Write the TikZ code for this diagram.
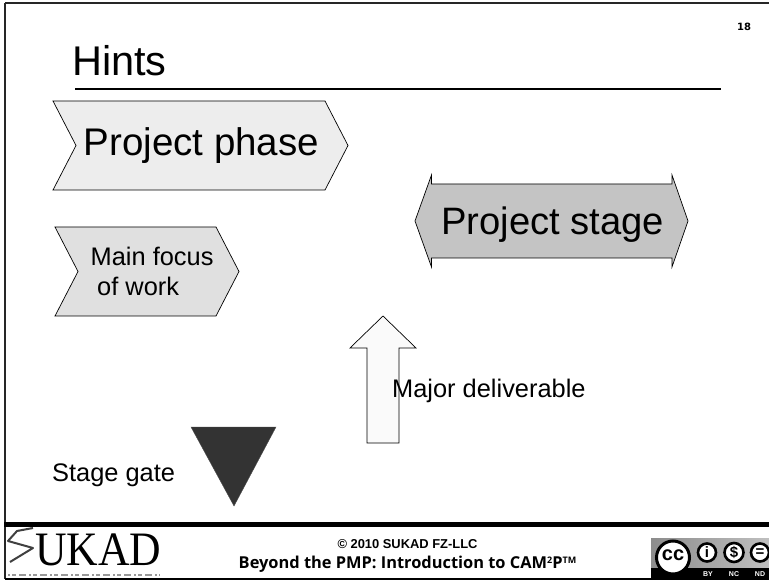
\documentclass[tikz,border=0pt]{standalone}
\usepackage{fontspec}
\setmainfont{Liberation Sans}
\newfontfamily\footfont{Open Sans}
\newfontfamily\logofont{Liberation Serif}
\newfontfamily\smallfont{DejaVu Sans}
\newcommand{\footsup}[1]{\raisebox{5pt}{\fontsize{9}{9}\selectfont #1}}
\begin{document}
\begin{tikzpicture}[x=1pt,y=-1pt,
  shapeline/.style={draw=black,line width=0.7pt,line join=miter},
  labeltext/.style={inner sep=0pt,anchor=base west,text=black},
  ringmark/.style={draw=black,line width=2.6pt,fill=white},
  ccsmall/.style={font=\bfseries\fontsize{15}{15}\selectfont,inner sep=0pt},
  cctag/.style={font=\bfseries\fontsize{7}{7}\selectfont,text=white,inner sep=0pt}]
\useasboundingbox (0,0) rectangle (769,580);
\fill[white] (0,0) rectangle (769,580);
% frame
\draw[line width=2.2pt,draw=black!85] (5,3) -- (769,3);
\draw[line width=2.2pt,draw=black!85] (5,3) -- (5,579);
\draw[line width=2pt] (5,578.5) -- (769,578.5);
\draw[line width=4.5pt] (4,524.5) -- (769,524.5);
% title
\node[labeltext,font=\fontsize{41.5}{42}\selectfont] (title) at (72,76) {Hints};
\draw[line width=2pt] (75,89.5) -- (721,89.5);
\node[labeltext,font=\smallfont\bfseries\fontsize{10}{10}\selectfont] (pg) at (737,30.5) {18};
% shapes
\draw[shapeline,fill=black!7] (53,101) -- (325,101) -- (348,145.5) -- (325,190) -- (53,190) -- (76,145.5) -- cycle;
\node[labeltext,font=\fontsize{38.5}{38}\selectfont] (pp) at (83.5,156) {Project phase};
\draw[shapeline,fill=black!12] (55,227) -- (216,227) -- (239,271.5) -- (216,316) -- (55,316) -- (78,271.5) -- cycle;
\node[labeltext,font=\fontsize{25.4}{25}\selectfont] (mf1) at (90.5,266) {Main focus};
\node[labeltext,font=\fontsize{25.4}{25}\selectfont] (mf2) at (97,296) {of work};
\draw[shapeline,fill=black!23] (415,221) -- (431.5,175) -- (431.5,184) -- (672,184) -- (672,175) -- (688,221) -- (672,267) -- (672,258) -- (431.5,258) -- (431.5,267) -- cycle;
\node[labeltext,font=\fontsize{38.2}{38}\selectfont] (ps) at (441,235) {Project stage};
\draw[shapeline,fill=black!2] (383,316) -- (416,348) -- (399,348) -- (399,443) -- (367,443) -- (367,348) -- (350,348) -- cycle;
\node[labeltext,font=\fontsize{25.4}{25}\selectfont] (md) at (392,397) {Major deliverable};
\draw[draw=black!70,fill=black!80] (191,427) -- (276,427) -- (234,506) -- cycle;
\node[labeltext,font=\fontsize{25.4}{25}\selectfont] (sg) at (52,481) {Stage gate};
% footer: logo
\node[labeltext,font=\logofont\fontsize{48}{48}\selectfont] (logo) at (35,565) {\scalebox{0.91}[1]{UKAD}};
\draw[line width=2pt,draw=black!75,line join=round] (33,528) -- (17,531) -- (8,541) -- (33,548) -- (10,562);
\draw[line width=2.4pt,draw=black!40,dash pattern=on 2pt off 2pt on 4pt off 3pt on 7pt off 3pt] (8,575) -- (160,575);
% footer: text
\node[labeltext,font=\bfseries\fontsize{12.9}{13}\selectfont,anchor=base] (copy) at (407.5,548) {© 2010 SUKAD FZ-LLC};
\node[labeltext,font=\footfont\bfseries\fontsize{16.4}{16}\selectfont,anchor=base] (sub) at (407.5,568) {Beyond the PMP: Introduction to CAM\footsup{2}P\footsup{TM}};
% cc badge
\shade[left color=black!45,right color=black!25] (651,538) rectangle (769,568);
\fill[black] (651,568) rectangle (769,578);
\draw[ringmark,line width=3pt] (673,557.5) circle (16.5);
\node[font=\bfseries\fontsize{20}{20}\selectfont,inner sep=0pt] (cc) at (673,555) {cc};
\draw[ringmark] (707,552.5) circle (9);
\draw[ringmark] (734,552.5) circle (9.5);
\draw[ringmark] (760,552.5) circle (9);
\node[ccsmall] (ii) at (707,552.5) {i};
\node[ccsmall] (dd) at (734,552.5) {\$};
\node[ccsmall] (ee) at (760,552.5) {=};
\node[cctag] (by) at (708,574) {BY};
\node[cctag] (nc) at (734,574) {NC};
\node[cctag] (nd) at (760,574) {ND};
\end{tikzpicture}
\end{document}
